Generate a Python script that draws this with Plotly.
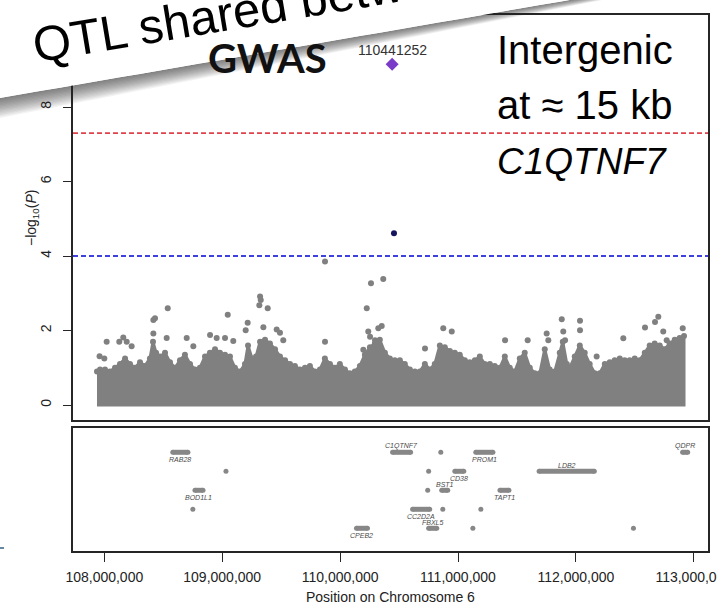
import plotly.graph_objects as go

W, H = 717, 613

# ---------------- data (positions in Mb on chromosome 6, values are -log10 P) ----------------
lead_snp_name = "110441252"
lead_snp_mb = 110.441252
lead_snp_logp = 9.15
ld_snp_mb = 110.457
ld_snp_logp = 4.61

genome_wide_line = 7.3
suggestive_line = 4.0

# upper envelope of the dense cloud of SNPs (read column by column)
band_pos_mb = [
    107.938, 107.964, 108.006, 108.048, 108.091, 108.133, 108.176, 108.218, 108.260, 108.303,
    108.345, 108.387, 108.413, 108.439, 108.473, 108.515, 108.557, 108.600, 108.642, 108.684,
    108.727, 108.769, 108.811, 108.854, 108.896, 108.939, 108.981, 109.024, 109.066, 109.108,
    109.151, 109.193, 109.219, 109.253, 109.287, 109.321, 109.363, 109.405, 109.448, 109.490,
    109.533, 109.575, 109.617, 109.660, 109.702, 109.744, 109.787, 109.829, 109.871, 109.914,
    109.956, 109.998, 110.041, 110.083, 110.125, 110.168, 110.210, 110.253, 110.295, 110.337,
    110.380, 110.422, 110.464, 110.507, 110.549, 110.592, 110.634, 110.676, 110.719, 110.761,
    110.803, 110.846, 110.888, 110.931, 110.973, 111.015, 111.058, 111.100, 111.143, 111.185,
    111.227, 111.270, 111.312, 111.355, 111.397, 111.439, 111.482, 111.524, 111.566, 111.609,
    111.651, 111.694, 111.736, 111.778, 111.821, 111.863, 111.889, 111.923, 111.948, 111.990,
    112.033, 112.075, 112.117, 112.160, 112.202, 112.245, 112.287, 112.329, 112.372, 112.414,
    112.456, 112.499, 112.541, 112.584, 112.626, 112.668, 112.711, 112.753, 112.795, 112.838,
    112.880, 112.917,
]
band_top = [
    0.90, 0.95, 0.95, 0.90, 1.00, 1.10, 1.25, 1.10, 1.00, 1.15,
    1.05, 1.25, 1.70, 1.40, 1.30, 1.40, 1.15, 1.00, 1.20, 1.35,
    1.10, 0.95, 1.00, 1.30, 1.40, 1.50, 1.40, 1.35, 1.30, 1.00,
    0.90, 1.10, 1.60, 1.25, 1.30, 1.70, 1.75, 1.65, 1.50, 1.30,
    1.20, 1.10, 1.05, 0.95, 1.00, 1.05, 0.90, 0.95, 1.25, 1.10,
    1.00, 1.10, 0.95, 0.85, 0.90, 1.05, 1.35, 1.55, 1.65, 1.75,
    1.40, 1.25, 1.20, 1.20, 1.10, 0.95, 0.90, 0.90, 1.10, 0.95,
    1.10, 1.60, 1.55, 1.45, 1.40, 1.35, 1.20, 1.15, 1.20, 1.30,
    1.10, 1.10, 1.05, 1.00, 1.30, 1.00, 0.90, 1.25, 1.40, 1.00,
    0.85, 0.85, 1.50, 0.95, 0.90, 1.40, 1.70, 1.10, 1.00, 1.30,
    1.60, 1.40, 1.10, 0.85, 0.85, 1.10, 1.15, 1.20, 1.25, 1.20,
    1.20, 1.25, 1.20, 1.40, 1.60, 1.65, 1.60, 1.50, 1.65, 1.75,
    1.80, 1.85,
]

# isolated SNPs standing above the dense cloud
snp_pos_mb = [
    107.960, 108.000, 108.020, 108.127, 108.161, 108.190, 108.232, 108.416, 108.430, 108.416,
    108.538, 108.529, 108.699, 108.755, 108.897, 108.953, 109.024, 109.047, 109.094, 109.216,
    109.199, 109.315, 109.327, 109.321, 109.386, 109.349, 109.462, 109.490, 109.518, 109.872,
    109.872, 110.226, 110.262, 110.366, 110.239, 110.324, 110.353, 110.296, 110.254, 110.197,
    110.720, 110.875, 110.947, 111.399, 111.591, 111.752, 111.766, 111.880, 111.893, 111.908,
    112.035, 112.035, 112.176, 112.402, 112.586, 112.671, 112.699, 112.741, 112.906, 112.770,
]
snp_logp = [
    1.31, 1.25, 1.70, 1.70, 1.81, 1.70, 1.58, 2.28, 2.33, 1.92,
    2.60, 1.80, 1.80, 1.58, 1.88, 1.80, 1.80, 2.42, 1.72, 2.21,
    2.01, 2.68, 2.82, 2.91, 2.60, 2.09, 2.03, 1.94, 1.74, 3.85,
    1.70, 2.60, 3.27, 3.38, 1.97, 2.06, 2.12, 1.74, 1.83, 1.48,
    1.52, 2.06, 1.97, 1.74, 1.74, 1.92, 1.74, 2.30, 1.97, 1.74,
    2.26, 2.01, 1.30, 1.79, 2.08, 2.23, 2.37, 1.97, 2.06, 1.74,
]

# gene track
gene_names = ["RAB28", "BOD1L1", "CPEB2", "C1QTNF7", "CC2D2A", "FBXL5",
              "BST1", "CD38", "PROM1", "TAPT1", "LDB2", "QDPR"]
gene_start_mb = [108.581, 108.769, 110.139, 110.445, 110.615, 110.751,
                 110.862, 110.973, 111.151, 111.356, 111.688, 112.905]
gene_end_mb = [108.709, 108.837, 110.232, 110.598, 110.760, 110.820,
               110.913, 111.049, 111.296, 111.432, 112.156, 112.948]
gene_row = [5, 3, 1, 5, 2, 1, 3, 4, 5, 3, 4, 5]
gene_label_side = ["below", "below", "below", "above", "below", "above",
                   "above", "below", "below", "below", "above", "above"]
small_feature_mb = [109.032, 108.751, 110.854, 110.751, 110.743, 110.871, 111.194, 111.126, 112.488]
small_feature_row = [4, 2, 5, 4, 3, 2, 2, 1, 1]

x_tick_mb = [108, 109, 110, 111, 112, 113]
x_tick_labels = ["108,000,000", "109,000,000", "110,000,000",
                 "111,000,000", "112,000,000", "113,000,000"]
y_ticks = [0, 2, 4, 6, 8]

# ---------------- styling / geometry ----------------
GRAY = "#808080"
GENE_GRAY = "#878787"
FRAME = "#262626"
SANS = "Liberation Sans, Arial, Helvetica, sans-serif"
SLIDE = "Liberation Sans, Arial, sans-serif"

PL, PR = 73, 708            # plot left/right (px)
TOP_T, TOP_B = 15, 420      # association panel top/bottom (px)
GEN_T, GEN_B = 428, 551     # gene panel top/bottom (px)
X_REF_PX, X_PX_PER_MB = 104.3, 117.9   # 108 Mb sits at 104.3 px
Y0_PX, Y_PX_PER_UNIT = 405, 37.25
ROW1_PX, ROW_PX = 528.3, 19.0

x_lo = 108 + (PL - X_REF_PX) / X_PX_PER_MB
x_hi = 108 + (PR - X_REF_PX) / X_PX_PER_MB
x_range = [x_lo * 1e6, x_hi * 1e6]
y_range = [-(TOP_B - Y0_PX) / Y_PX_PER_UNIT, (Y0_PX - TOP_T) / Y_PX_PER_UNIT]
g_range = [1 - (GEN_B - ROW1_PX) / ROW_PX, 1 + (ROW1_PX - GEN_T) / ROW_PX]


def px(x):
    return x / W


def py(y):
    return 1 - y / H


def bp(v):
    return [a * 1e6 for a in v]


fig = go.Figure()

# dense cloud as filled envelope
n = len(band_pos_mb)
fig.add_trace(go.Scatter(
    x=bp(band_pos_mb) + bp(band_pos_mb[::-1]),
    y=band_top + [0.0] * n,
    mode="lines", fill="toself", fillcolor=GRAY,
    line=dict(color=GRAY, width=3), hoverinfo="skip",
    xaxis="x", yaxis="y"))
fig.add_trace(go.Scatter(
    x=bp(band_pos_mb), y=band_top, mode="markers",
    marker=dict(size=6, color=GRAY), hoverinfo="skip", xaxis="x", yaxis="y"))
fig.add_trace(go.Scatter(
    x=bp(snp_pos_mb), y=snp_logp, mode="markers",
    marker=dict(size=6, color=GRAY), hoverinfo="skip", xaxis="x", yaxis="y"))
fig.add_trace(go.Scatter(
    x=[ld_snp_mb * 1e6], y=[ld_snp_logp], mode="markers",
    marker=dict(size=6, color="#16145e"), hoverinfo="skip", xaxis="x", yaxis="y"))
fig.add_trace(go.Scatter(
    x=[lead_snp_mb * 1e6], y=[lead_snp_logp], mode="markers",
    marker=dict(size=10, color="#7a3cc8", symbol="diamond"), hoverinfo="skip",
    xaxis="x", yaxis="y"))

# gene track
for s, e, r in zip(gene_start_mb, gene_end_mb, gene_row):
    fig.add_trace(go.Scatter(
        x=[s * 1e6, e * 1e6], y=[r, r], mode="lines+markers",
        line=dict(color=GENE_GRAY, width=5), marker=dict(size=5, color=GENE_GRAY),
        hoverinfo="skip", xaxis="x2", yaxis="y2"))
fig.add_trace(go.Scatter(
    x=bp(small_feature_mb), y=small_feature_row, mode="markers",
    marker=dict(size=5, color=GENE_GRAY), hoverinfo="skip", xaxis="x2", yaxis="y2"))

annotations = []
for name, s, e, r, side in zip(gene_names, gene_start_mb, gene_end_mb, gene_row, gene_label_side):
    annotations.append(dict(
        x=(s + e) / 2 * 1e6, y=r, xref="x2", yref="y2", showarrow=False,
        xanchor="center", yanchor="middle",
        text=f"<i>{name}</i>", font=dict(family=SANS, size=7, color="#4a4a4a"),
        yshift=6 if side == "above" else -7))

annotations.append(dict(
    x=lead_snp_mb * 1e6, y=lead_snp_logp, xref="x", yref="y", showarrow=False,
    xanchor="center", yanchor="middle",
    text=lead_snp_name, yshift=14, font=dict(family=SANS, size=14, color="#333333")))

annotations.append(dict(
    x=px(32), y=py(218), xref="paper", yref="paper", showarrow=False,
    xanchor="center", yanchor="middle",
    text="\u2212log<sub>10</sub>(<i>P</i>)", textangle=-90,
    font=dict(family=SANS, size=14, color="#222222")))
annotations.append(dict(
    x=px((PL + PR) / 2), y=py(597), xref="paper", yref="paper", showarrow=False,
    xanchor="center", yanchor="middle",
    text="Position on Chromosome 6", font=dict(family=SANS, size=14, color="#222222")))

# slide overlays
for txt, yc, fs in [("Intergenic", 50, 40), ("at \u2248 15 kb", 105, 40), ("<i>C1QTNF7</i>", 161, 37)]:
    annotations.append(dict(
        x=px(495), y=py(yc), xref="paper", yref="paper", showarrow=False,
        xanchor="left", yanchor="middle", text=txt,
        font=dict(family=SLIDE, size=fs, color="#000000")))

annotations.append(dict(
    x=px(329), y=py(58), xref="paper", yref="paper", showarrow=False,
    xanchor="right", yanchor="middle", text="GWAS",
    font=dict(family="Lato, Open Sans, sans-serif", size=40, color="#111111", weight="bold")))

annotations.append(dict(
    x=px(258), y=py(8), xref="paper", yref="paper", showarrow=False,
    xanchor="center", yanchor="middle", text="QTL shared between", textangle=-9.5,
    font=dict(family=SLIDE, size=49, color="#000000")))

# shapes: threshold lines + banner with shadow
shapes = [
    dict(type="line", xref="x domain", yref="y", x0=0, x1=1,
         y0=genome_wide_line, y1=genome_wide_line,
         line=dict(color="#e0414b", width=1.8, dash="5px,3px"), layer="above"),
    dict(type="line", xref="x domain", yref="y", x0=0, x1=1,
         y0=suggestive_line, y1=suggestive_line,
         line=dict(color="#4040e0", width=1.8, dash="5px,3px"), layer="above"),
]


def edge(x):
    return 98 - 0.172 * x


def thick(x):
    return 20 - 0.024 * x


xs = list(range(-20, 760, 20))
NSTRIP = 14
for k in range(1, NSTRIP + 1):
    f = k / NSTRIP
    top = [(x, edge(x)) for x in xs]
    bot = [(x, edge(x) + f * thick(x)) for x in xs[::-1]]
    pts = top + bot
    path = "M " + " L ".join(f"{px(a):.5f},{py(b):.5f}" for a, b in pts) + " Z"
    shapes.append(dict(type="path", xref="paper", yref="paper", path=path,
                       fillcolor="rgba(30,30,30,0.055)", line=dict(width=0), layer="above"))

banner = [(x, edge(x)) for x in xs] + [(760, -200), (-20, -200)]
path = "M " + " L ".join(f"{px(a):.5f},{py(b):.5f}" for a, b in banner) + " Z"
shapes.append(dict(type="path", xref="paper", yref="paper", path=path,
                   fillcolor="#ffffff", line=dict(width=0), layer="above"))
shapes.append(dict(type="line", xref="paper", yref="paper", x0=px(0), x1=px(4),
                   y0=py(548), y1=py(548), line=dict(color="#2f6080", width=1.5), layer="above"))

axis_common = dict(showgrid=False, zeroline=False, showline=True, mirror=True,
                   linecolor=FRAME, linewidth=1.6, automargin=False)

fig.update_layout(
    width=W, height=H, margin=dict(l=0, r=0, t=0, b=0, autoexpand=False),
    paper_bgcolor="white", plot_bgcolor="white", showlegend=False,
    xaxis=dict(domain=[px(PL), px(PR)], range=x_range, anchor="y",
               showticklabels=False, ticks="", **axis_common),
    yaxis=dict(domain=[py(TOP_B), py(TOP_T)], range=y_range, anchor="x",
               tickvals=y_ticks, ticks="outside", ticklen=8, tickwidth=1.4,
               tickcolor=FRAME, tickangle=-90, ticklabelstandoff=7,
               tickfont=dict(family=SANS, size=14, color="#222222"), **axis_common),
    xaxis2=dict(domain=[px(PL), px(PR)], range=x_range, anchor="y2",
                tickvals=bp(x_tick_mb), ticktext=x_tick_labels, ticks="outside",
                ticklen=9, tickwidth=1.4, tickcolor=FRAME, ticklabelstandoff=3,
                ticklabeloverflow="allow",
                tickfont=dict(family=SANS, size=14, color="#222222"), **axis_common),
    yaxis2=dict(domain=[py(GEN_B), py(GEN_T)], range=g_range, anchor="x2",
                showticklabels=False, ticks="", **axis_common),
    annotations=annotations, shapes=shapes,
)

fig.write_html(
    "out.html",
    config={"displayModeBar": False},
    post_script="document.body.style.margin='0';document.body.style.padding='0';"
                "document.documentElement.style.overflow='hidden';",
)
